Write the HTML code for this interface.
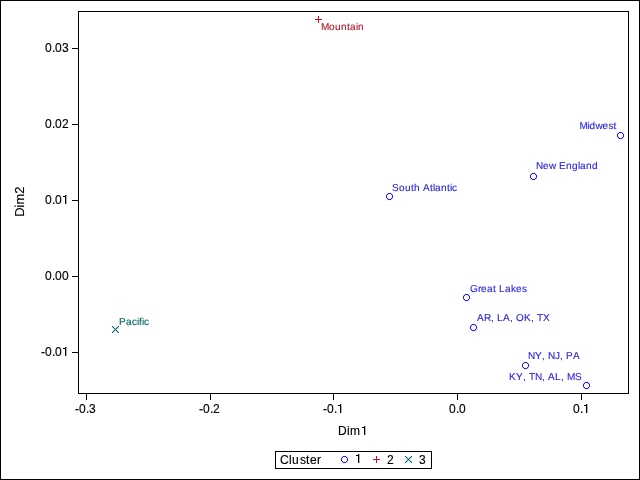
<!DOCTYPE html>
<html><head><meta charset="utf-8"><style>
html,body{margin:0;padding:0;background:#fff;}
svg{display:block;will-change:transform;}
text{font-family:"Liberation Sans",sans-serif;font-kerning:none;}
</style></head><body>
<svg width="640" height="480" viewBox="0 0 640 480">
<rect x="0" y="0" width="640" height="480" fill="#fff"/>
<path d="M0 0h640v1h-640zM0 479h640v1h-640zM0 0h1v480h-1zM639 0h1v480h-1z" fill="#000" shape-rendering="crispEdges"/>
<path d="M78 11h551v1h-551zM78 393h551v1h-551zM78 11h1v383h-1zM628 11h1v383h-1z" fill="#000" shape-rendering="crispEdges"/>
<text y="52.3" font-size="12" fill="#000" stroke="#000" stroke-width="0.15"><tspan x="45">0</tspan><tspan x="52">.</tspan><tspan x="55">0</tspan><tspan x="62">3</tspan></text>
<text y="128.3" font-size="12" fill="#000" stroke="#000" stroke-width="0.15"><tspan x="45">0</tspan><tspan x="52">.</tspan><tspan x="55">0</tspan><tspan x="62">2</tspan></text>
<text y="204.3" font-size="12" fill="#000" stroke="#000" stroke-width="0.15"><tspan x="45">0</tspan><tspan x="52">.</tspan><tspan x="55">0</tspan></text><path d="M65 195h1v9h-1zM63 196h2v1h-2z" fill="#000" shape-rendering="crispEdges"/><path d="M66 195h1v9h-1z" fill="#000" opacity="0.3" shape-rendering="crispEdges"/>
<text y="280.3" font-size="12" fill="#000" stroke="#000" stroke-width="0.15"><tspan x="45">0</tspan><tspan x="52">.</tspan><tspan x="55">0</tspan><tspan x="62">0</tspan></text>
<text y="356.3" font-size="12" fill="#000" stroke="#000" stroke-width="0.15"><tspan x="41">-</tspan><tspan x="45">0</tspan><tspan x="52">.</tspan><tspan x="55">0</tspan></text><path d="M65 347h1v9h-1zM63 348h2v1h-2z" fill="#000" shape-rendering="crispEdges"/><path d="M66 347h1v9h-1z" fill="#000" opacity="0.3" shape-rendering="crispEdges"/>
<text y="413.3" font-size="12" fill="#000" stroke="#000" stroke-width="0.15"><tspan x="75">-</tspan><tspan x="79">0</tspan><tspan x="86">.</tspan><tspan x="89">3</tspan></text>
<text y="413.3" font-size="12" fill="#000" stroke="#000" stroke-width="0.15"><tspan x="199">-</tspan><tspan x="203">0</tspan><tspan x="210">.</tspan><tspan x="213">2</tspan></text>
<text y="413.3" font-size="12" fill="#000" stroke="#000" stroke-width="0.15"><tspan x="323">-</tspan><tspan x="327">0</tspan><tspan x="334">.</tspan></text><path d="M340 404h1v9h-1zM338 405h2v1h-2z" fill="#000" shape-rendering="crispEdges"/><path d="M341 404h1v9h-1z" fill="#000" opacity="0.3" shape-rendering="crispEdges"/>
<text y="413.3" font-size="12" fill="#000" stroke="#000" stroke-width="0.15"><tspan x="449">0</tspan><tspan x="456">.</tspan><tspan x="459">0</tspan></text>
<text y="413.3" font-size="12" fill="#000" stroke="#000" stroke-width="0.15"><tspan x="573">0</tspan><tspan x="580">.</tspan></text><path d="M586 404h1v9h-1zM584 405h2v1h-2z" fill="#000" shape-rendering="crispEdges"/><path d="M587 404h1v9h-1z" fill="#000" opacity="0.3" shape-rendering="crispEdges"/>
<path d="M72 48h6v1h-6zM72 124h6v1h-6zM72 200h6v1h-6zM72 276h6v1h-6zM72 352h6v1h-6zM86 394h1v6h-1zM210 394h1v6h-1zM333 394h1v6h-1zM457 394h1v6h-1zM581 394h1v6h-1z" fill="#000" shape-rendering="crispEdges"/>
<text y="435.3" font-size="12" fill="#000" stroke="#000" stroke-width="0.15"><tspan x="338">D</tspan><tspan x="347">i</tspan><tspan x="350">m</tspan></text><path d="M364 426h1v9h-1zM362 427h2v1h-2z" fill="#000" shape-rendering="crispEdges"/><path d="M365 426h1v9h-1z" fill="#000" opacity="0.3" shape-rendering="crispEdges"/>
<text x="0" y="0" font-size="13" text-anchor="middle" style="text-rendering:geometricPrecision" stroke="#000" stroke-width="0.12" transform="translate(24 201.6) rotate(-90)">Dim2</text>
<path d="M315 19h7v1h-7zM318 16h1v3h-1zM318 20h1v3h-1z" fill="#B2182B" shape-rendering="crispEdges"/>
<text y="30" font-size="10" fill="#B2182B" style="text-rendering:geometricPrecision" stroke="#B2182B" stroke-width="0.12"><tspan x="321">M</tspan><tspan x="329">o</tspan><tspan x="335">u</tspan><tspan x="341">n</tspan><tspan x="347">t</tspan><tspan x="350">a</tspan><tspan x="356">i</tspan><tspan x="358">n</tspan></text>
<circle cx="620.5" cy="135.5" r="3.1" fill="none" stroke="#2A25D9" stroke-width="1.2" opacity="0.4"/><path d="M619 132h3v1h-3zM619 138h3v1h-3zM617 134h1v3h-1zM623 134h1v3h-1zM618 133h1v1h-1zM622 133h1v1h-1zM618 137h1v1h-1zM622 137h1v1h-1z" fill="#2A25D9" shape-rendering="crispEdges"/>
<text y="128.8" font-size="10" fill="#2A25D9" style="text-rendering:geometricPrecision" stroke="#2A25D9" stroke-width="0.12"><tspan x="579.5">M</tspan><tspan x="587.5">i</tspan><tspan x="589.5">d</tspan><tspan x="595.5">w</tspan><tspan x="602.5">e</tspan><tspan x="608.5">s</tspan><tspan x="613.5">t</tspan></text>
<circle cx="533.5" cy="176.5" r="3.1" fill="none" stroke="#2A25D9" stroke-width="1.2" opacity="0.4"/><path d="M532 173h3v1h-3zM532 179h3v1h-3zM530 175h1v3h-1zM536 175h1v3h-1zM531 174h1v1h-1zM535 174h1v1h-1zM531 178h1v1h-1zM535 178h1v1h-1z" fill="#2A25D9" shape-rendering="crispEdges"/>
<text y="169" font-size="10" fill="#2A25D9" style="text-rendering:geometricPrecision" stroke="#2A25D9" stroke-width="0.12"><tspan x="536">N</tspan><tspan x="543">e</tspan><tspan x="549">w</tspan><tspan x="559">E</tspan><tspan x="566">n</tspan><tspan x="572">g</tspan><tspan x="578">l</tspan><tspan x="580">a</tspan><tspan x="586">n</tspan><tspan x="592">d</tspan></text>
<circle cx="389.5" cy="196.5" r="3.1" fill="none" stroke="#2A25D9" stroke-width="1.2" opacity="0.4"/><path d="M388 193h3v1h-3zM388 199h3v1h-3zM386 195h1v3h-1zM392 195h1v3h-1zM387 194h1v1h-1zM391 194h1v1h-1zM387 198h1v1h-1zM391 198h1v1h-1z" fill="#2A25D9" shape-rendering="crispEdges"/>
<text y="190.8" font-size="10" fill="#2A25D9" style="text-rendering:geometricPrecision" stroke="#2A25D9" stroke-width="0.12"><tspan x="392">S</tspan><tspan x="399">o</tspan><tspan x="405">u</tspan><tspan x="411">t</tspan><tspan x="414">h</tspan><tspan x="423">A</tspan><tspan x="430">t</tspan><tspan x="433">l</tspan><tspan x="435">a</tspan><tspan x="441">n</tspan><tspan x="447">t</tspan><tspan x="450">i</tspan><tspan x="452">c</tspan></text>
<circle cx="466.5" cy="297.5" r="3.1" fill="none" stroke="#2A25D9" stroke-width="1.2" opacity="0.4"/><path d="M465 294h3v1h-3zM465 300h3v1h-3zM463 296h1v3h-1zM469 296h1v3h-1zM464 295h1v1h-1zM468 295h1v1h-1zM464 299h1v1h-1zM468 299h1v1h-1z" fill="#2A25D9" shape-rendering="crispEdges"/>
<text y="292" font-size="10" fill="#2A25D9" style="text-rendering:geometricPrecision" stroke="#2A25D9" stroke-width="0.12"><tspan x="470">G</tspan><tspan x="478">r</tspan><tspan x="481">e</tspan><tspan x="487">a</tspan><tspan x="493">t</tspan><tspan x="499">L</tspan><tspan x="505">a</tspan><tspan x="511">k</tspan><tspan x="516">e</tspan><tspan x="522">s</tspan></text>
<circle cx="473.5" cy="327.5" r="3.1" fill="none" stroke="#2A25D9" stroke-width="1.2" opacity="0.4"/><path d="M472 324h3v1h-3zM472 330h3v1h-3zM470 326h1v3h-1zM476 326h1v3h-1zM471 325h1v1h-1zM475 325h1v1h-1zM471 329h1v1h-1zM475 329h1v1h-1z" fill="#2A25D9" shape-rendering="crispEdges"/>
<text y="321.1" font-size="10" fill="#2A25D9" style="text-rendering:geometricPrecision" stroke="#2A25D9" stroke-width="0.12"><tspan x="477">A</tspan><tspan x="484">R</tspan><tspan x="491">,</tspan><tspan x="497">L</tspan><tspan x="503">A</tspan><tspan x="510">,</tspan><tspan x="516">O</tspan><tspan x="524">K</tspan><tspan x="531">,</tspan><tspan x="537">T</tspan><tspan x="543">X</tspan></text>
<circle cx="525.5" cy="365.5" r="3.1" fill="none" stroke="#2A25D9" stroke-width="1.2" opacity="0.4"/><path d="M524 362h3v1h-3zM524 368h3v1h-3zM522 364h1v3h-1zM528 364h1v3h-1zM523 363h1v1h-1zM527 363h1v1h-1zM523 367h1v1h-1zM527 367h1v1h-1z" fill="#2A25D9" shape-rendering="crispEdges"/>
<text y="359" font-size="10" fill="#2A25D9" style="text-rendering:geometricPrecision" stroke="#2A25D9" stroke-width="0.12"><tspan x="528">N</tspan><tspan x="535">Y</tspan><tspan x="542">,</tspan><tspan x="548">N</tspan><tspan x="555">J</tspan><tspan x="560">,</tspan><tspan x="566">P</tspan><tspan x="573">A</tspan></text>
<circle cx="586.5" cy="385.5" r="3.1" fill="none" stroke="#2A25D9" stroke-width="1.2" opacity="0.4"/><path d="M585 382h3v1h-3zM585 388h3v1h-3zM583 384h1v3h-1zM589 384h1v3h-1zM584 383h1v1h-1zM588 383h1v1h-1zM584 387h1v1h-1zM588 387h1v1h-1z" fill="#2A25D9" shape-rendering="crispEdges"/>
<text y="379.7" font-size="10" fill="#2A25D9" style="text-rendering:geometricPrecision" stroke="#2A25D9" stroke-width="0.12"><tspan x="509">K</tspan><tspan x="516">Y</tspan><tspan x="523">,</tspan><tspan x="529">T</tspan><tspan x="535">N</tspan><tspan x="542">,</tspan><tspan x="548">A</tspan><tspan x="555">L</tspan><tspan x="561">,</tspan><tspan x="567">M</tspan><tspan x="575">S</tspan></text>
<path d="M112.5 326.5L118.5 332.5M112.5 332.5L118.5 326.5" stroke="#01665E" stroke-width="1.2" opacity="0.5"/><path d="M115 329h1v1h-1zM116 330h1v1h-1zM114 328h1v1h-1zM116 328h1v1h-1zM114 330h1v1h-1zM117 331h1v1h-1zM113 327h1v1h-1zM117 327h1v1h-1zM113 331h1v1h-1zM118 332h1v1h-1zM112 326h1v1h-1zM118 326h1v1h-1zM112 332h1v1h-1z" fill="#01665E" shape-rendering="crispEdges"/>
<text y="325" font-size="10" fill="#01665E" style="text-rendering:geometricPrecision" stroke="#01665E" stroke-width="0.12"><tspan x="119">P</tspan><tspan x="126">a</tspan><tspan x="132">c</tspan><tspan x="137">i</tspan><tspan x="139">f</tspan><tspan x="142">i</tspan><tspan x="144">c</tspan></text>
<path d="M275 451h157v1h-157zM275 468h157v1h-157zM275 451h1v18h-1zM431 451h1v18h-1z" fill="#000" shape-rendering="crispEdges"/>
<text y="463.8" font-size="12" fill="#000" stroke="#000" stroke-width="0.15"><tspan x="280">C</tspan><tspan x="289">l</tspan><tspan x="292">u</tspan><tspan x="300">s</tspan><tspan x="306">t</tspan><tspan x="310">e</tspan><tspan x="317">r</tspan></text>
<circle cx="344.5" cy="459.5" r="3.1" fill="none" stroke="#2A25D9" stroke-width="1.2" opacity="0.4"/><path d="M343 456h3v1h-3zM343 462h3v1h-3zM341 458h1v3h-1zM347 458h1v3h-1zM342 457h1v1h-1zM346 457h1v1h-1zM342 461h1v1h-1zM346 461h1v1h-1z" fill="#2A25D9" shape-rendering="crispEdges"/>
<text y="463.8" font-size="12" fill="#000" stroke="#000" stroke-width="0.15"></text><path d="M358 454h1v9h-1zM356 455h2v1h-2z" fill="#000" shape-rendering="crispEdges"/><path d="M359 454h1v9h-1z" fill="#000" opacity="0.3" shape-rendering="crispEdges"/>
<path d="M373 459h7v1h-7zM376 456h1v3h-1zM376 460h1v3h-1z" fill="#B2182B" shape-rendering="crispEdges"/>
<text y="463.8" font-size="12" fill="#000" stroke="#000" stroke-width="0.15"><tspan x="387">2</tspan></text>
<path d="M405.5 456.5L411.5 462.5M405.5 462.5L411.5 456.5" stroke="#01665E" stroke-width="1.2" opacity="0.5"/><path d="M408 459h1v1h-1zM409 460h1v1h-1zM407 458h1v1h-1zM409 458h1v1h-1zM407 460h1v1h-1zM410 461h1v1h-1zM406 457h1v1h-1zM410 457h1v1h-1zM406 461h1v1h-1zM411 462h1v1h-1zM405 456h1v1h-1zM411 456h1v1h-1zM405 462h1v1h-1z" fill="#01665E" shape-rendering="crispEdges"/>
<text y="463.8" font-size="12" fill="#000" stroke="#000" stroke-width="0.15"><tspan x="419">3</tspan></text>
</svg>
</body></html>
